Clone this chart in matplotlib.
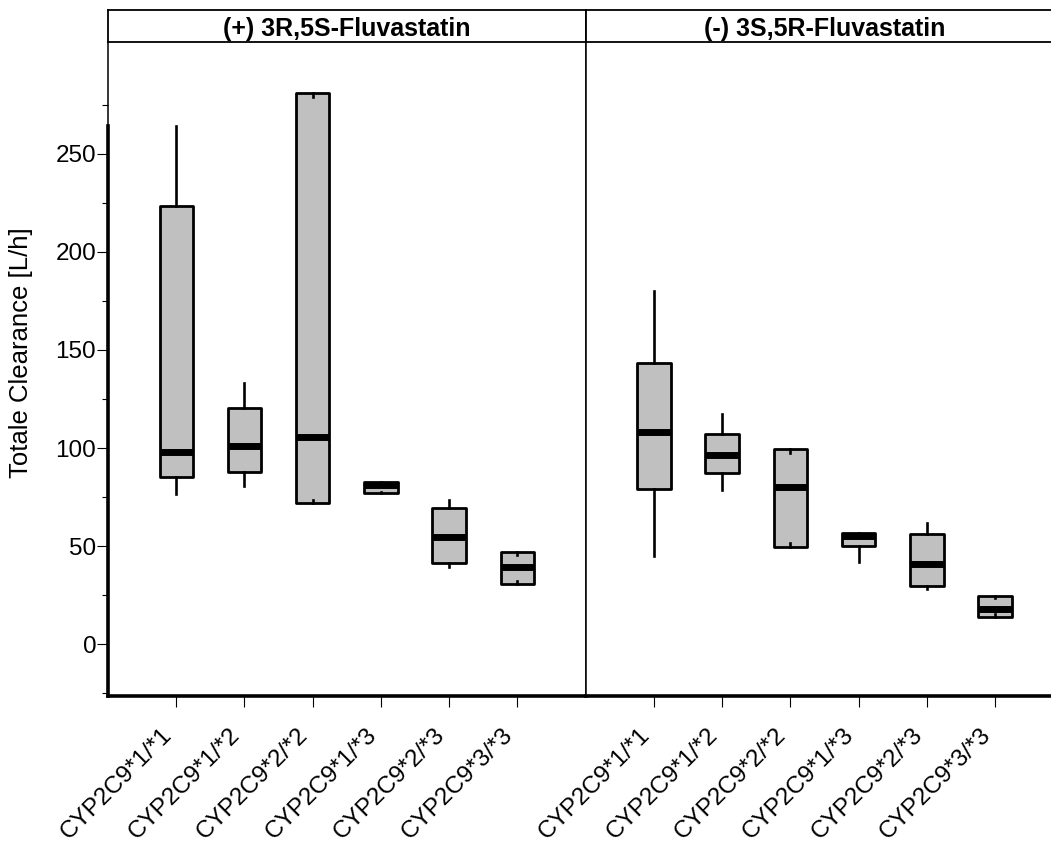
import matplotlib
matplotlib.use("Agg")
import matplotlib.pyplot as plt

plt.rcParams['font.family'] = ['Liberation Sans', 'DejaVu Sans']

genotypes = ["CYP2C9*1/*1", "CYP2C9*1/*2", "CYP2C9*2/*2",
             "CYP2C9*1/*3", "CYP2C9*2/*3", "CYP2C9*3/*3"]
panels = ["(+) 3R,5S-Fluvastatin", "(-) 3S,5R-Fluvastatin"]

# box statistics per genotype: whisker low, q1, median, q3, whisker high
plus_whislo = [76.5, 80.6, 73.5, 77.5, 39.1, 32.0]
plus_q1     = [85.0, 87.6, 72.0, 76.9, 41.5, 30.6]
plus_med    = [98.0, 101.2, 105.5, 81.2, 54.7, 39.1]
plus_q3     = [223.5, 120.2, 281.0, 82.8, 69.6, 47.1]
plus_whishi = [264.0, 133.0, 279.0, 82.0, 73.5, 45.4]

minus_whislo = [45.1, 78.6, 51.4, 41.7, 27.9, 15.3]
minus_q1     = [79.1, 87.2, 49.7, 50.2, 29.6, 13.9]
minus_med    = [108.3, 96.6, 80.1, 55.1, 40.7, 18.0]
minus_q3     = [143.2, 107.3, 99.3, 56.5, 55.9, 24.5]
minus_whishi = [180.3, 117.3, 97.6, 56.0, 61.9, 23.3]

yticks = [0, 50, 100, 150, 200, 250]
yminor = [-25, 25, 75, 125, 175, 225, 275]

W, H = 1051, 844
fig = plt.figure(figsize=(W / 100, H / 100), dpi=100)

ax_left_px, ax_w_px = 108, 477.7
ax_bot_px, ax_top_px = 696, 42
strip_top_px = 10
ylim = (-26.5, 307.1)
FS = 17.5


def make_stats(wl, q1, med, q3, wh):
    return [dict(whislo=a, q1=b, med=c, q3=d, whishi=e, fliers=[])
            for a, b, c, d, e in zip(wl, q1, med, q3, wh)]


data_sets = [make_stats(plus_whislo, plus_q1, plus_med, plus_q3, plus_whishi),
             make_stats(minus_whislo, minus_q1, minus_med, minus_q3, minus_whishi)]

for i, (title, stats) in enumerate(zip(panels, data_sets)):
    x0 = ax_left_px + i * ax_w_px
    ax = fig.add_axes([x0 / W, 1 - ax_bot_px / H, ax_w_px / W,
                       (ax_bot_px - ax_top_px) / H])
    ax.bxp(stats, positions=range(1, 7), widths=0.49, patch_artist=True,
           showfliers=False, showcaps=False,
           boxprops=dict(facecolor="#c0c0c0", edgecolor="black", linewidth=2.0,
                         joinstyle="round"),
           whiskerprops=dict(color="black", linewidth=1.9),
           medianprops=dict(color="black", linewidth=5.0, solid_capstyle="butt"))
    ax.set_xlim(0, 7)
    ax.set_ylim(*ylim)
    ax.set_xticks(range(1, 7))
    ax.set_xticklabels(genotypes, rotation=45, ha="right", fontsize=17.5)
    ax.tick_params(axis="x", length=8, width=0.8, pad=12, direction="out")
    ax.spines["top"].set_visible(False)
    ax.spines["bottom"].set_linewidth(2.6)
    ax.spines["right"].set_linewidth(1.1)
    ax.spines["left"].set_linewidth(1.1)
    if i == 0:
        ax.set_yticks(yticks)
        ax.set_yticks(yminor, minor=True)
        ax.set_yticklabels([str(v) for v in yticks], fontsize=FS)
        ax.tick_params(axis="y", which="major", length=8, width=0.8, pad=0.5)
        ax.tick_params(axis="y", which="minor", length=4.5, width=0.8)
        ax.axvline(0, ymin=0, ymax=(264 - ylim[0]) / (ylim[1] - ylim[0]),
                   color="black", linewidth=2.6, clip_on=False, zorder=5)
    else:
        ax.set_yticks([])
        ax.tick_params(axis="y", which="both", left=False)

    sax = fig.add_axes([x0 / W, 1 - ax_top_px / H, ax_w_px / W,
                        (ax_top_px - strip_top_px) / H])
    sax.set_xticks([])
    sax.set_yticks([])
    sax.set_facecolor("white")
    for s in sax.spines.values():
        s.set_linewidth(1.3)
    sax.text(0.5, 0.42, title, transform=sax.transAxes, ha="center",
             va="center", fontsize=18, fontweight="bold")

fig.text(21 / W, 1 - 353 / H, "Totale Clearance [L/h]", rotation=90,
         ha="center", va="center", fontsize=18.5)

fig.savefig("out.png", dpi=100)
